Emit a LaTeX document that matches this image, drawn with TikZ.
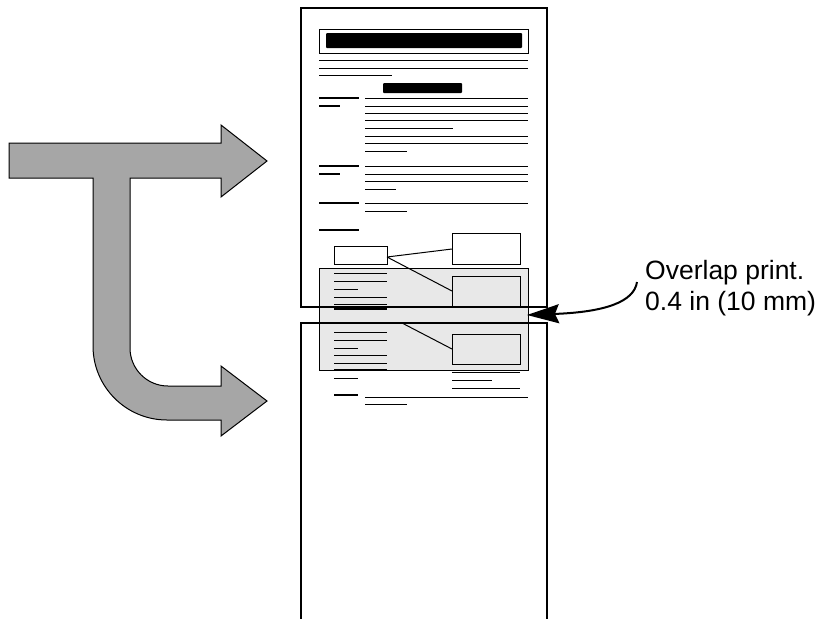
\documentclass[tikz,border=0pt]{standalone}
\usepackage{fontspec}
\setmainfont{Liberation Sans}
\usetikzlibrary{arrows.meta}
\tikzset{
  pageline/.style={black, line width=1.2pt},
  txt/.style={black, line width=1pt},
  head/.style={black, line width=2pt},
  callout/.style={font=\fontsize{26.5pt}{31pt}\selectfont, align=left, inner sep=0pt},
}
\begin{document}
\begin{tikzpicture}[x=1pt, y=-1pt]
  \useasboundingbox (0,0) rectangle (820,619);

  % 弯曲的灰色箭头
  \filldraw[fill=black!35, draw=black, line width=1pt, line join=miter]
      (9,143) -- (221,143) -- (221,125) -- (267,161) -- (221,197) -- (221,178)
      -- (130,178) -- (130,348) arc (180:90:38) -- (221,386) -- (221,366)
      -- (267,401) -- (221,436) -- (221,420) -- (167,420) arc (90:180:74)
      -- (93,178) -- (9,178) -- cycle;

  % 重叠区域（灰色）
  \filldraw[fill=black!9, draw=black, line width=1pt] (319,268) rectangle (528,370);

  % 上页：标题
  \draw[line width=1pt] (319,29) rectangle (528,53);
  \fill[rounded corners=1pt] (326,33) rectangle (522,48);
  \draw[txt] (319,60) -- (528,60) (319,68) -- (528,68) (319,75) -- (392,75);
  \fill[rounded corners=1pt] (383,83) rectangle (462,93);

  % 上页：第一段
  \draw[head] (319,98) -- (359,98) (319,106) -- (340,106);
  \draw[txt] (365,98) -- (528,98) (365,106) -- (528,106) (365,113) -- (528,113)
      (365,120) -- (528,120) (365,128) -- (453,128) (365,136) -- (528,136)
      (365,143) -- (528,143) (365,151) -- (407,151);

  % 上页：第二段、第三段
  \draw[head] (319,166) -- (359,166) (319,174) -- (340,174);
  \draw[txt] (365,166) -- (528,166) (365,174) -- (528,174) (365,181) -- (528,181)
      (365,189) -- (396,189);
  \draw[head] (319,203) -- (359,203);
  \draw[txt] (365,203) -- (528,203) (365,211) -- (407,211);
  \draw[head] (319,230) -- (359,230);

  % 上页：图框与连线
  \draw[line width=1pt] (334,246) rectangle (387,264);
  \draw[line width=1pt] (452,233) rectangle (520,264);
  \filldraw[fill=black!9, draw=black, line width=1pt] (452,276) rectangle (520,306);
  \draw[txt] (387,257) -- (452,249) (387,257) -- (452,291);
  \draw[txt] (334,273) -- (387,273) (334,281) -- (387,281) (334,289) -- (358,289)
      (334,297) -- (387,297) (334,304) -- (387,304);
  \draw[head] (334,309) -- (387,309);

  % 下页：重复的内容
  \draw[txt] (334,332) -- (387,332) (334,340) -- (387,340) (334,348) -- (358,348)
      (334,355) -- (387,355) (334,363) -- (387,363) (334,378) -- (358,378);
  \draw[head] (334,370) -- (387,370) (334,395) -- (358,395);
  \draw[txt] (365,397) -- (528,397) (365,404) -- (407,404);
  \draw[line width=1pt] (452,334) rectangle (520,364);
  \draw[txt] (402,323) -- (452,349);
  \draw[txt] (452,372) -- (520,372) (452,380) -- (492,380) (452,388) -- (520,388);

  % 两页的边框
  \draw[pageline] (301,8) rectangle (547,307);
  \draw[pageline] (301,619) -- (301,323) -- (547,323) -- (547,619);

  % 说明文字与指示箭头
  \node[callout, anchor=base west] (ovlbl) at (645,310) {Overlap print.\\0.4 in (10 mm)};
  \coordinate (ovstart) at (637,282);
  \coordinate (ovtip) at (527,315);
  \draw[line width=2pt, -{Stealth[length=32pt, width=19pt, inset=4pt]}]
      (ovstart) .. controls (634,302) and (605,312) .. (ovtip);
\end{tikzpicture}
\end{document}
